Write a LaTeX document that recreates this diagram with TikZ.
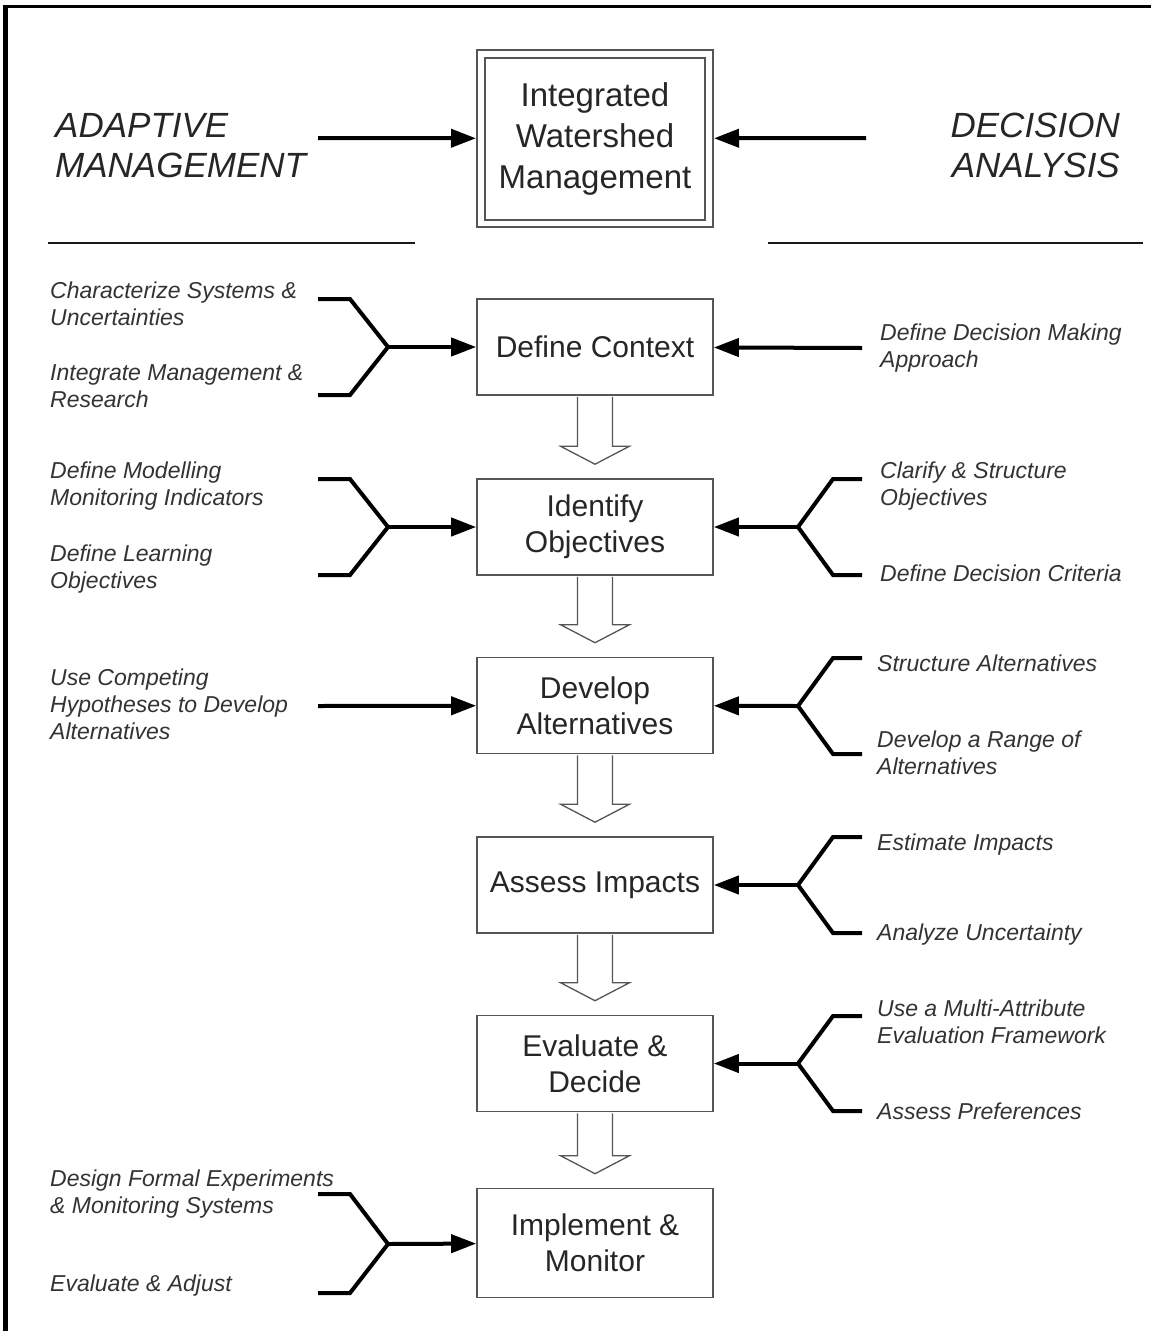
\documentclass[tikz,border=0pt]{standalone}
\usepackage{fontspec}
\setmainfont{Liberation Sans}
\usetikzlibrary{arrows.meta}
\definecolor{boxgray}{HTML}{555555}
\definecolor{txt}{HTML}{262626}
\definecolor{labtxt}{HTML}{333333}
\begin{document}
\begin{tikzpicture}[x=1pt,y=-1pt,
  box/.style={draw=boxgray, line width=1.6pt, minimum width=236pt, minimum height=96pt,
    inner sep=0pt, align=center, font=\fontsize{30}{36}\selectfont, text=txt, fill=white},
  lab/.style={anchor=north west, inner sep=0pt, align=left,
    font=\fontsize{23}{27}\selectfont\itshape, text=labtxt},
  ttl/.style={inner sep=0pt, font=\fontsize{35}{40}\selectfont\itshape, text=txt},
  brk/.style={line width=4pt, black},
  arr/.style={line width=4pt, black, -{Triangle[length=25pt,width=18pt]}},
  hollow/.style={draw=boxgray, line width=1.3pt, fill=white},
  rule/.style={line width=2.5pt, black!90}
]
\useasboundingbox (0,0) rectangle (1151,1331);
\fill[white] (0,0) rectangle (1151,1331);
% frame
\draw[line width=5pt] (5.5,1331) -- (5.5,4.5);
\draw[line width=3.5pt] (3,6.5) -- (1151,6.5);

% top
\node[draw=boxgray, line width=2pt, minimum width=236pt, minimum height=177pt, inner sep=0pt] (iwo) at (595,138.5) {};
\node[draw=boxgray, line width=1.5pt, minimum width=220pt, minimum height=162pt, inner sep=0pt,
  align=center, font=\fontsize{33}{41}\selectfont, text=txt] (iw) at (595,139) {Integrated\\Watershed\\Management};
\node[ttl, anchor=north west, align=left] (am) at (55,109.5) {\strut ADAPTIVE\\MANAGEMENT};
\node[ttl, anchor=north east, align=right] (dan) at (1120,109.5) {\strut DECISION\\ANALYSIS};
\coordinate (amA) at (318,138);
\coordinate (daA) at (866,138);
\draw[arr] (amA) -- (iwo);
\draw[arr] (daA) -- (iwo);
\draw[rule] (48,243) -- (415,243);
\draw[rule] (768,243) -- (1143,243);

% boxes
\node[box] (dc) at (595,347) {Define Context};
\node[box] (io) at (595,527) {Identify\\Objectives};
\node[box] (da) at (595,705.5) {Develop\\Alternatives};
\node[box] (ai) at (595,885) {Assess Impacts};
\node[box] (ed) at (595,1063.5) {Evaluate \&\\Decide};
\node[box, minimum height=109pt] (im) at (595,1243) {Implement \&\\Monitor};

% hollow arrows
\newcommand{\hollowarrow}[2]{%
  \draw[hollow] ([xshift=-17.5pt,yshift=-1pt]#1.south) -- ([xshift=-17.5pt,yshift=32pt]#2.north)
   -- ([xshift=-34.5pt,yshift=32pt]#2.north) -- ([yshift=14pt]#2.north)
   -- ([xshift=34.5pt,yshift=32pt]#2.north) -- ([xshift=17.5pt,yshift=32pt]#2.north)
   -- ([xshift=17.5pt,yshift=-1pt]#1.south);}
\hollowarrow{dc}{io}
\hollowarrow{io}{da}
\hollowarrow{da}{ai}
\hollowarrow{ai}{ed}
\hollowarrow{ed}{im}

% left side
\node[lab] (l1) at (50,279.5) {\strut Characterize Systems \&\\Uncertainties};
\node[lab] (l2) at (50,361.5) {\strut Integrate Management \&\\Research};
\coordinate (dcL) at (388,347);
\draw[brk] (318,299) -- (350,299) -- (dcL) -- (350,395) -- (318,395);
\draw[arr] (dcL) -- (dc);

\node[lab] (l3) at (50,459) {\strut Define Modelling\\Monitoring Indicators};
\node[lab] (l4) at (50,542) {\strut Define Learning\\Objectives};
\coordinate (ioL) at (388,527);
\draw[brk] (318,479) -- (350,479) -- (ioL) -- (350,575) -- (318,575);
\draw[arr] (ioL) -- (io);

\node[lab] (l5) at (50,666) {\strut Use Competing\\Hypotheses to Develop\\Alternatives};
\coordinate (daL) at (318,706);
\draw[arr] (daL) -- (da);

\node[lab] (l6) at (50,1167) {\strut Design Formal Experiments\\\& Monitoring Systems};
\node[lab] (l7) at (50,1272) {\strut Evaluate \& Adjust};
\coordinate (imL) at (388,1244);
\draw[brk] (318,1194) -- (350,1194) -- (imL) -- (350,1293) -- (318,1293);
\draw[arr] (imL) -- (im);

% right side
\node[lab] (r1) at (880,321.5) {\strut Define Decision Making\\Approach};
\coordinate (dcR) at (862,348);
\draw[arr] (dcR) -- (dc);

\node[lab] (r2) at (880,459) {\strut Clarify \& Structure\\Objectives};
\node[lab] (r3) at (880,562) {\strut Define Decision Criteria};
\coordinate (ioR) at (798,527);
\draw[brk] (862,479) -- (833,479) -- (ioR) -- (833,575) -- (862,575);
\draw[arr] (ioR) -- (io);

\node[lab] (r4) at (877,652) {\strut Structure Alternatives};
\node[lab] (r5) at (877,728) {\strut Develop a Range of\\Alternatives};
\coordinate (daR) at (798,706);
\draw[brk] (862,658) -- (833,658) -- (daR) -- (833,754) -- (862,754);
\draw[arr] (daR) -- (da);

\node[lab] (r6) at (877,831) {\strut Estimate Impacts};
\node[lab] (r7) at (877,921) {\strut Analyze Uncertainty};
\coordinate (aiR) at (798,885);
\draw[brk] (862,837) -- (833,837) -- (aiR) -- (833,933) -- (862,933);
\draw[arr] (aiR) -- (ai);

\node[lab] (r8) at (877,997) {\strut Use a Multi-Attribute\\Evaluation Framework};
\node[lab] (r9) at (877,1100) {\strut Assess Preferences};
\coordinate (edR) at (798,1063.5);
\draw[brk] (862,1016) -- (833,1016) -- (edR) -- (833,1111) -- (862,1111);
\draw[arr] (edR) -- (ed);
\end{tikzpicture}
\end{document}
